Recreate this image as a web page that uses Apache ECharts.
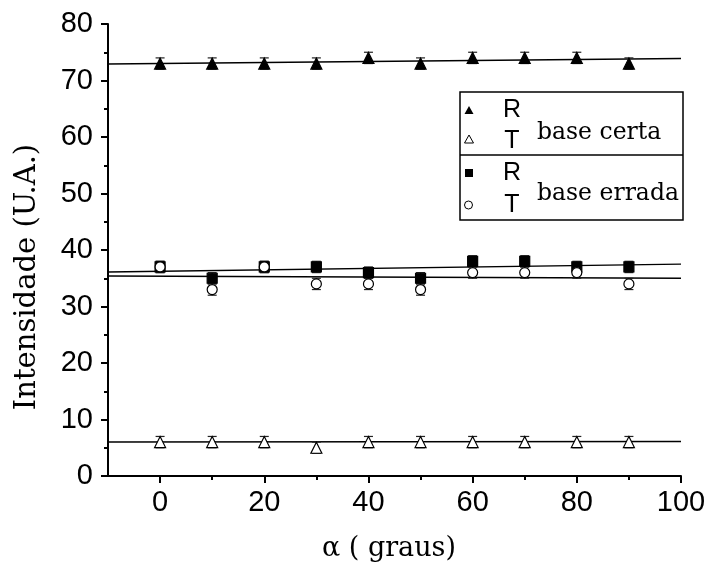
<!DOCTYPE html>
<html><head><meta charset="utf-8">
<script src="https://cdn.jsdelivr.net/npm/echarts@6/dist/echarts.min.js"></script>
<style>html,body{margin:0;padding:0;background:#fff}#c{width:710px;height:565px}</style>
</head><body><div id="c"></div>
<script>
const angles = [0, 10, 20, 30, 40, 50, 60, 70, 80, 90];
const rCerta = [73, 73, 73, 73, 74, 73, 74, 74, 74, 73];
const tCerta = [6, 6, 6, 5, 6, 6, 6, 6, 6, 6];
const rErrada = [37, 35, 37, 37, 36, 35, 38, 38, 37, 37];
const tErrada = [37, 33, 37, 34, 34, 33, 36, 36, 36, 34];
const errR = [1, 1, 1, 1, 1, 1, 1, 1, 1, 1];
const errT = [1, 1, 1, 1, 1, 1, 1, 1, 1, 1];
const fitX = [-10, 100];
const fitRCerta = [72.9, 73.9];
const fitTCerta = [6.0, 6.1];
const fitRErrada = [36.1, 37.5];
const fitTErrada = [35.4, 35.0];
const xTickLabels = [0, 20, 40, 60, 80, 100];
const xMinorTicks = [10, 30, 50, 70, 90];

const chart = echarts.init(document.getElementById('c'));
const pts = ys => angles.map((a, i) => [a, ys[i]]);
const fit = ys => fitX.map((x, i) => [x, ys[i]]);
function errSeries(ys, errs) {
  return {
    type: 'custom', z: 3,
    data: angles.map((a, i) => [a, ys[i] - errs[i], ys[i] + errs[i]]),
    renderItem: (params, api) => {
      const lo = api.coord([api.value(0), api.value(1)]);
      const hi = api.coord([api.value(0), api.value(2)]);
      const w = 4.5;
      const st = { stroke: '#222', lineWidth: 1.2 };
      return { type: 'group', children: [
        { type: 'line', shape: { x1: lo[0], y1: lo[1], x2: hi[0], y2: hi[1] }, style: st },
        { type: 'line', shape: { x1: lo[0] - w, y1: lo[1], x2: lo[0] + w, y2: lo[1] }, style: st },
        { type: 'line', shape: { x1: hi[0] - w, y1: hi[1], x2: hi[0] + w, y2: hi[1] }, style: st }
      ]};
    }
  };
}
function lineSeries(ys) {
  return { type: 'line', data: fit(ys), symbol: 'none', z: 2,
    lineStyle: { color: '#000', width: 1.5 }, silent: true };
}
function scat(ys, symbol, filled, size, z) {
  return { type: 'scatter', data: pts(ys), symbol, symbolSize: size, z,
    itemStyle: { color: filled ? '#000' : '#fff', borderColor: '#000', borderWidth: 1.2, opacity: 1 } };
}
const serif = '"DejaVu Serif", "Liberation Serif", serif';
const sans = '"Liberation Sans", Arial, sans-serif';
const G = { left: 108, right: 29, top: 24, bottom: 89 };
const lx = 460, ly = 92, lw = 223, lh = 128, ldiv = 155;
const axisStyle = { color: '#000', width: 2 };
chart.setOption({
  animation: false,
  grid: G,
  xAxis: [{
    type: 'value', min: -10, max: 100, interval: 10,
    axisLine: { onZero: false, lineStyle: axisStyle },
    axisTick: { inside: false, length: 7, lineStyle: axisStyle, customValues: xTickLabels },
    axisLabel: { color: '#000', fontSize: 29, fontFamily: sans, margin: 12, customValues: xTickLabels },
    splitLine: { show: false }
  }, {
    type: 'value', min: -10, max: 100, interval: 10, position: 'bottom',
    axisLine: { show: false, onZero: false },
    axisTick: { length: 4, lineStyle: axisStyle, customValues: xMinorTicks },
    axisLabel: { show: false }, splitLine: { show: false }
  }],
  yAxis: {
    type: 'value', min: 0, max: 80, interval: 10,
    axisLine: { show: true, onZero: false, lineStyle: axisStyle },
    axisTick: { show: true, length: 7, lineStyle: axisStyle },
    minorTick: { show: true, splitNumber: 2, length: 4, lineStyle: axisStyle },
    axisLabel: { color: '#000', fontSize: 29, fontFamily: sans, margin: 15 },
    splitLine: { show: false }
  },
  series: [
    lineSeries(fitRCerta), lineSeries(fitTCerta), lineSeries(fitRErrada), lineSeries(fitTErrada),
    errSeries(rCerta, errR), errSeries(tCerta, errT), errSeries(rErrada, errR), errSeries(tErrada, errT),
    scat(rCerta, 'triangle', true, 11, 4),
    scat(tCerta, 'triangle', false, 11, 4),
    scat(rErrada, 'rect', true, 10, 4),
    scat(tErrada, 'circle', false, 10, 5)
  ],
  graphic: [
    { type: 'text', x: 27, y: 277, rotation: Math.PI / 2,
      style: { text: 'Intensidade (U.A.)', font: '29px ' + serif, fill: '#000', align: 'center', verticalAlign: 'middle' } },
    { type: 'text', x: 389, y: 549,
      style: { text: 'α ( graus)', font: '27px ' + serif, fill: '#000', align: 'center', verticalAlign: 'middle' } },
    { type: 'rect', shape: { x: lx, y: ly, width: lw, height: lh }, style: { fill: '#fff', stroke: '#000', lineWidth: 1.5 }, z: 10 },
    { type: 'line', shape: { x1: lx, y1: ldiv, x2: lx + lw, y2: ldiv }, style: { stroke: '#000', lineWidth: 1.5 }, z: 11 },
    { type: 'polygon', shape: { points: [[469, 106], [473.5, 114], [464.5, 114]] }, style: { fill: '#000' }, z: 11 },
    { type: 'polygon', shape: { points: [[469, 135], [473.5, 143], [464.5, 143]] }, style: { fill: '#fff', stroke: '#000', lineWidth: 1 }, z: 11 },
    { type: 'rect', shape: { x: 465, y: 169, width: 8, height: 8 }, style: { fill: '#000' }, z: 11 },
    { type: 'circle', shape: { cx: 468.5, cy: 205, r: 4 }, style: { fill: '#fff', stroke: '#000', lineWidth: 1 }, z: 11 },
    { type: 'text', x: 512, y: 110, style: { text: 'R', font: '25px ' + sans, fill: '#000', align: 'center', verticalAlign: 'middle' }, z: 11 },
    { type: 'text', x: 512, y: 141, style: { text: 'T', font: '25px ' + sans, fill: '#000', align: 'center', verticalAlign: 'middle' }, z: 11 },
    { type: 'text', x: 512, y: 173, style: { text: 'R', font: '25px ' + sans, fill: '#000', align: 'center', verticalAlign: 'middle' }, z: 11 },
    { type: 'text', x: 512, y: 205, style: { text: 'T', font: '25px ' + sans, fill: '#000', align: 'center', verticalAlign: 'middle' }, z: 11 },
    { type: 'text', x: 537, y: 133, style: { text: 'base certa', font: '23.5px ' + serif, fill: '#000', verticalAlign: 'middle' }, z: 11 },
    { type: 'text', x: 537, y: 194, style: { text: 'base errada', font: '23.5px ' + serif, fill: '#000', verticalAlign: 'middle' }, z: 11 }
  ]
});
</script></body></html>
